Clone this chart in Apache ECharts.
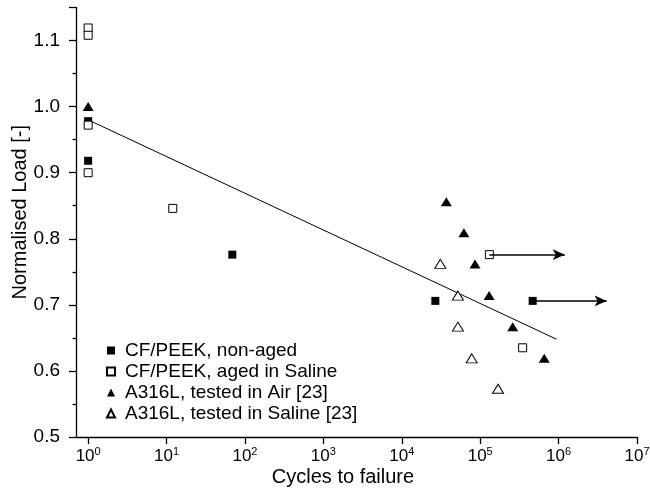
<!DOCTYPE html>
<html>
<head>
<meta charset="utf-8">
<script src="https://cdn.jsdelivr.net/npm/echarts@6/dist/echarts.min.js"></script>
<style>
  html, body { margin: 0; padding: 0; background: #fff; }
  #chart { width: 650px; height: 496px; }
</style>
</head>
<body>
<div id="chart"></div>
<script>
// values (x = cycles, y = normalised load)
const nonAgedX = [1, 1, 69, 2.68e4, 4.67e5]
const nonAgedY = [0.978, 0.918, 0.776, 0.706, 0.706]
const agedX = [1, 1, 1, 1, 12, 1.31e5, 3.48e5]
const agedY = [1.119, 1.108, 0.972, 0.9, 0.846, 0.776, 0.635]
const airX = [1, 3.7e4, 6.2e4, 8.6e4, 1.3e5, 2.6e5, 6.56e5]
const airY = [1.0, 0.856, 0.809, 0.762, 0.714, 0.667, 0.619]
const salineX = [3.1e4, 5.2e4, 5.2e4, 7.8e4, 1.69e5]
const salineY = [0.762, 0.714, 0.667, 0.619, 0.573]
// trend line and run-out arrows
const fitX = [1, 9.4e5]
const fitY = [0.98, 0.648]
const runoutX = [1.31e5, 4.67e5]
const runoutY = [0.776, 0.706]
const runoutEndX = [1.2e6, 4.1e6]

const seriesNames = ['CF/PEEK, non-aged', 'CF/PEEK, aged in Saline', 'A316L, tested in Air [23]', 'A316L, tested in Saline [23]']
const FONT = 'Liberation Sans, Arial, sans-serif'

const zip = (xs, ys) => xs.map((x, i) => [x, ys[i]])

const filled = { color: '#000', opacity: 1 }
const hollow = { color: '#fff', borderColor: '#000', borderWidth: 1, opacity: 1 }

const chart = echarts.init(document.getElementById('chart'))

const option = {
  animation: false,
  grid: { left: 76, right: 13, top: 7.5, bottom: 59, containLabel: false, outerBoundsMode: 'none' },
  legend: {
    data: seriesNames,
    orient: 'vertical',
    left: 101,
    top: 336,
    itemWidth: 8,
    itemHeight: 8,
    itemGap: 2,
    textStyle: { fontFamily: FONT, fontSize: 19, color: '#000', padding: [0, 0, 0, 5] }
  },
  xAxis: {
    type: 'log',
    logBase: 10,
    min: 0.7,
    max: 1e7,
    name: 'Cycles to failure',
    nameLocation: 'middle',
    nameGap: 30,
    nameMoveOverlap: false,
    nameTextStyle: { fontFamily: FONT, fontSize: 20, color: '#000', padding: [0, 27, 0, 0] },
    axisLine: { lineStyle: { color: '#000', width: 1.3 } },
    axisTick: { length: 7, lineStyle: { color: '#000', width: 1.3 } },
    splitLine: { show: false },
    axisLabel: {
      showMinLabel: false,
      margin: 9,
      color: '#000',
      fontFamily: FONT,
      formatter: (v) => {
        const e = Math.round(Math.log10(v))
        if (Math.abs(Math.log10(v) - e) > 1e-6) return ''
        return '{b|10}{s|' + e + '}'
      },
      rich: {
        b: { fontFamily: FONT, fontSize: 17, color: '#000' },
        s: { fontFamily: FONT, fontSize: 11, color: '#000', padding: [0, 0, 9, 0] }
      }
    }
  },
  yAxis: {
    type: 'value',
    min: 0.5,
    max: 1.15,
    interval: 0.1,
    name: 'Normalised Load [-]',
    nameLocation: 'middle',
    nameGap: 46,
    nameMoveOverlap: false,
    nameTextStyle: { fontFamily: FONT, fontSize: 20, color: '#000', padding: [0, 0, 0, 20] },
    axisLine: { show: true, lineStyle: { color: '#000', width: 1.3 } },
    axisTick: { show: true, length: 7, lineStyle: { color: '#000', width: 1.3 } },
    minorTick: { show: true, splitNumber: 2, length: 3.5, lineStyle: { color: '#000', width: 1.3 } },
    splitLine: { show: false },
    axisLabel: {
      showMaxLabel: false,
      margin: 16,
      color: '#000',
      fontFamily: FONT,
      fontSize: 19,
      formatter: (v) => v.toFixed(1)
    }
  },
  series: [
    {
      name: 'fit',
      type: 'line',
      data: zip(fitX, fitY),
      symbol: 'none',
      lineStyle: { color: '#000', width: 1 },
      z: 1
    },
    {
      name: seriesNames[0],
      type: 'scatter',
      symbol: 'rect',
      symbolSize: 8,
      data: zip(nonAgedX, nonAgedY),
      itemStyle: filled,
      z: 3,
      markLine: {
        silent: true,
        symbol: ['none', 'arrow'],
        symbolSize: [8, 12],
        label: { show: false },
        lineStyle: { color: '#000', width: 1.5, type: 'solid', opacity: 1 },
        data: runoutX.map((x, i) => [
          { coord: [x, runoutY[i]] },
          { coord: [runoutEndX[i], runoutY[i]] }
        ])
      }
    },
    {
      name: seriesNames[1],
      type: 'scatter',
      symbol: 'rect',
      symbolSize: 8,
      data: zip(agedX, agedY),
      itemStyle: hollow,
      z: 4
    },
    {
      name: seriesNames[2],
      type: 'scatter',
      symbol: 'triangle',
      symbolSize: [11, 9],
      data: zip(airX, airY),
      itemStyle: filled,
      z: 3
    },
    {
      name: seriesNames[3],
      type: 'scatter',
      symbol: 'triangle',
      symbolSize: [11, 9],
      data: zip(salineX, salineY),
      itemStyle: hollow,
      z: 3
    }
  ]
}

chart.setOption(option)
</script>
</body>
</html>
